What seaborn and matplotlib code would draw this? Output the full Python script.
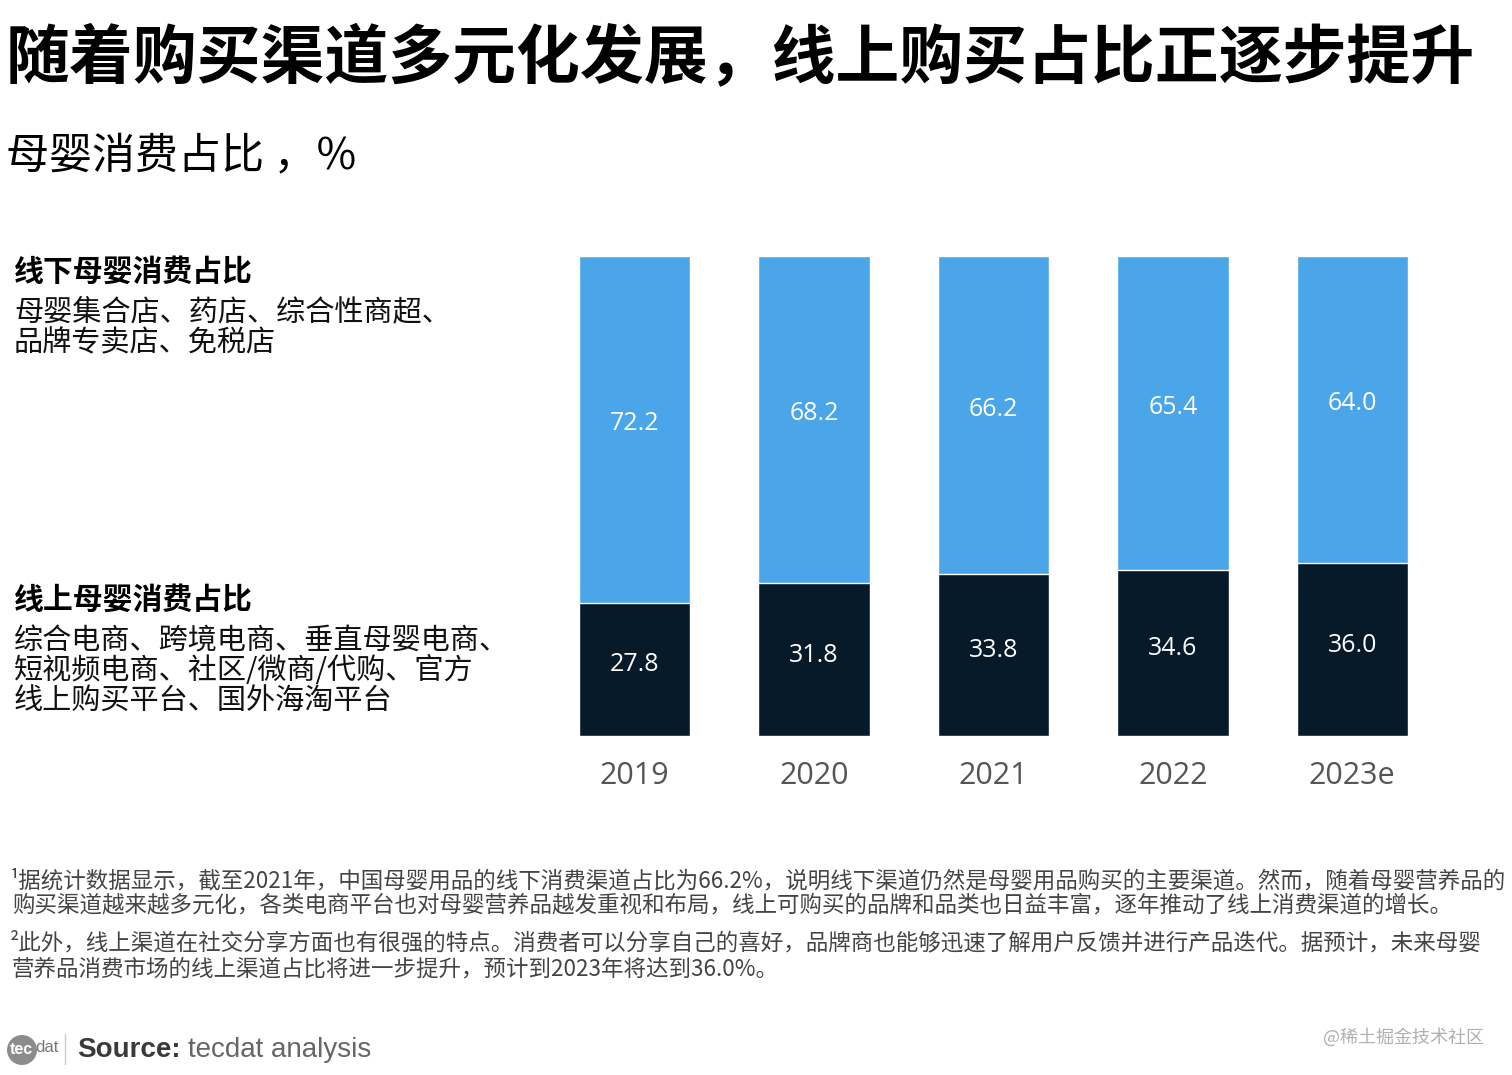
import pandas as pd
import matplotlib
matplotlib.use("Agg")
import matplotlib.pyplot as plt
import seaborn as sns
from matplotlib.patches import Circle

# data
years = ["2019", "2020", "2021", "2022", "2023e"]
online = [27.8, 31.8, 33.8, 34.6, 36.0]
offline = [72.2, 68.2, 66.2, 65.4, 64.0]

title = "随着购买渠道多元化发展，线上购买占比正逐步提升"
subtitle = "母婴消费占比 ，%"
offline_head = "线下母婴消费占比"
offline_lines = ["母婴集合店、药店、综合性商超、", "品牌专卖店、免税店"]
online_head = "线上母婴消费占比"
online_lines = ["综合电商、跨境电商、垂直母婴电商、",
                "短视频电商、社区/微商/代购、官方",
                "线上购买平台、国外海淘平台"]
notes = [
    "¹据统计数据显示，截至2021年，中国母婴用品的线下消费渠道占比为66.2%，说明线下渠道仍然是母婴用品购买的主要渠道。然而，随着母婴营养品的",
    "购买渠道越来越多元化，各类电商平台也对母婴营养品越发重视和布局，线上可购买的品牌和品类也日益丰富，逐年推动了线上消费渠道的增长。",
    "²此外，线上渠道在社交分享方面也有很强的特点。消费者可以分享自己的喜好，品牌商也能够迅速了解用户反馈并进行产品迭代。据预计，未来母婴",
    "营养品消费市场的线上渠道占比将进一步提升，预计到2023年将达到36.0%。",
]

LIGHT = "#4AA6E9"
DARK = "#061A2A"

sns.set_theme(style="white")
plt.rcParams['font.family'] = ['Noto Sans CJK SC', 'DejaVu Sans']

df = pd.DataFrame({"year": years, "online": online, "offline": offline})
df["total"] = df["online"] + df["offline"]

W, H = 1512, 1075
fig = plt.figure(figsize=(W / 100, H / 100), dpi=100)
fig.patch.set_facecolor("white")


def px(x, y):
    return x / W, 1 - y / H


ax = fig.add_axes([545 / W, 1 - 736 / H, 897 / W, 480 / H])
sns.barplot(data=df, x="year", y="total", color=LIGHT, width=0.62, saturation=1, ax=ax)
sns.barplot(data=df, x="year", y="online", color=DARK, width=0.62, saturation=1, ax=ax)
ax.set_xlim(-0.5, 4.5)
ax.set_ylim(0, 100)
ax.set_xlabel("")
ax.set_ylabel("")
ax.set_yticks([])
for s in ax.spines.values():
    s.set_visible(False)
ax.tick_params(axis="x", length=0, pad=18)
for lab in ax.get_xticklabels():
    lab.set_fontfamily(["Open Sans", "DejaVu Sans"])
    lab.set_fontsize(22)
    lab.set_color("#555555")

for i, (on, off) in enumerate(zip(online, offline)):
    ax.text(i, on / 2 + 0.9, f"{on:.1f}", ha="center", va="center", color="white",
            fontsize=18, family=["Open Sans", "DejaVu Sans"])
    ax.text(i, on + off / 2 + 1.2, f"{off:.1f}", ha="center", va="center", color="white",
            fontsize=18, family=["Open Sans", "DejaVu Sans"])

# titles
fig.text(*px(6, 58), title, fontsize=46, fontweight="bold", va="center", ha="left", color="black")
fig.text(*px(6, 156), subtitle, fontsize=31, va="center", ha="left", color="black")

# left side labels
fig.text(*px(14, 272), offline_head, fontsize=21.5, fontweight="bold", va="center", color="black")
for k, line in enumerate(offline_lines):
    fig.text(*px(14, 312 + 30 * k), line, fontsize=21, va="center", color="#111111")
fig.text(*px(14, 600), online_head, fontsize=21.5, fontweight="bold", va="center", color="black")
for k, line in enumerate(online_lines):
    fig.text(*px(14, 641 + 30 * k), line, fontsize=21, va="center", color="#111111")

# footnotes
note_y = [881, 905, 943, 969]
note_x = [10, 12, 10, 12]
for line, x, y in zip(notes, note_x, note_y):
    fig.text(*px(x, y), line, fontsize=16.2, va="center", color="#444444")

# source line with logo
fig.add_artist(Circle((22 / 100, (H - 1050) / 100), 15 / 100, transform=fig.dpi_scale_trans,
                      facecolor="#8c8c8c", edgecolor="none"))
fig.text(*px(10, 1049), "tec", fontsize=11.5, fontweight="bold", color="white", va="center",
         family=["Liberation Sans"])
fig.text(*px(35, 1048), "dat", fontsize=12, color="#777777", va="center", family=["Liberation Sans"])
fig.add_artist(plt.Line2D([65 / W, 65 / W], [1 - 1034 / H, 1 - 1064 / H], color="#cccccc", lw=1))
src = fig.text(*px(77, 1050), "Source:", fontsize=20, fontweight="bold", color="#3a3a3a",
               va="center", family=["Liberation Sans"])
fig.canvas.draw()
bb = src.get_window_extent()
fig.text(bb.x1 / W + 7 / W, 1 - 1050 / H, "tecdat analysis", fontsize=20, color="#666666",
         va="center", family=["Liberation Sans"])

fig.text(*px(1323, 1037), "@稀土掘金技术社区", fontsize=13, color="#b0b0b0", va="center")

fig.savefig("out.png", dpi=100, facecolor="white")
